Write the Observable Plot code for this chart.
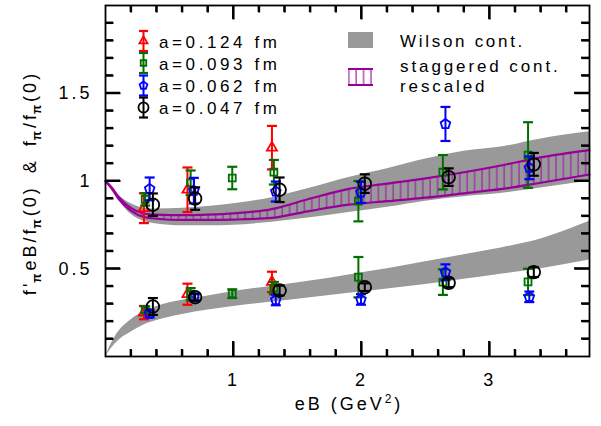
<!DOCTYPE html>
<html><head><meta charset="utf-8">
<script src="https://cdn.jsdelivr.net/npm/d3@7"></script>
<script src="https://cdn.jsdelivr.net/npm/@observablehq/plot@0.6"></script>
<style>
body{margin:0;background:#fff;}
#wrap{width:601px;height:426px;}
</style></head><body><div id="wrap"></div>
<script>
// ---------- data ----------
const seriesNames = ["a=0.124 fm", "a=0.093 fm", "a=0.062 fm", "a=0.047 fm"];

const eB_a124 = [0.30, 0.64, 1.30];
const fpi_a124 = [0.845, 0.95, 1.19];
const fpiErr_a124 = [0.085, 0.127, 0.124];
const fprime_a124 = [0.25, 0.355, 0.425];
const fprimeErr_a124 = [0.038, 0.06, 0.058];

const eB_a093 = [0.31, 0.665, 0.99, 1.315, 1.975, 2.635, 3.30];
const fpi_a093 = [0.895, 0.99, 1.017, 1.05, 0.885, 1.05, 1.148];
const fpiErr_a093 = [0.035, 0.07, 0.064, 0.07, 0.115, 0.098, 0.187];
const fprime_a093 = [0.266, 0.355, 0.358, 0.39, 0.452, 0.424, 0.425];
const fprimeErr_a093 = [0.02, 0.035, 0.025, 0.035, 0.115, 0.073, 0.075];

const eB_a062 = [0.345, 0.69, 1.33, 1.995, 2.655, 3.31];
const fpi_a062 = [0.955, 0.945, 0.94, 0.935, 1.325, 1.075];
const fpiErr_a062 = [0.065, 0.073, 0.057, 0.06, 0.097, 0.065];
const fprime_a062 = [0.243, 0.338, 0.322, 0.325, 0.48, 0.34];
const fprimeErr_a062 = [0.02, 0.02, 0.03, 0.03, 0.045, 0.03];

const eB_a047 = [0.37, 0.70, 1.36, 2.025, 2.68, 3.345];
const fpi_a047 = [0.865, 0.90, 0.95, 0.985, 1.022, 1.095];
const fpiErr_a047 = [0.064, 0.064, 0.07, 0.053, 0.05, 0.065];
const fprime_a047 = [0.285, 0.338, 0.376, 0.395, 0.42, 0.481];
const fprimeErr_a047 = [0.048, 0.02, 0.028, 0.022, 0.025, 0.028];

// continuum bands
const bandEB = [0, 0.05, 0.1, 0.2, 0.3, 0.4, 0.6, 0.8, 1.0, 1.3, 1.6, 1.9, 2.2, 2.5, 2.8, 3.1, 3.4, 3.78];
const wilsonFpiLo = [1.0, 0.95, 0.895, 0.81, 0.77, 0.755, 0.745, 0.745, 0.748, 0.765, 0.79, 0.82, 0.85, 0.885, 0.91, 0.93, 0.96, 1.0];
const wilsonFpiHi = [1.0, 0.96, 0.92, 0.87, 0.845, 0.84, 0.845, 0.855, 0.871, 0.905, 0.96, 1.02, 1.07, 1.125, 1.17, 1.195, 1.24, 1.28];
const staggFpiLo = [1.0, 0.955, 0.9, 0.83, 0.795, 0.785, 0.778, 0.778, 0.78, 0.79, 0.83, 0.865, 0.885, 0.905, 0.93, 0.955, 0.99, 1.037];
const staggFpiHi = [1.0, 0.962, 0.912, 0.845, 0.815, 0.808, 0.805, 0.808, 0.815, 0.84, 0.9, 0.955, 0.985, 1.015, 1.05, 1.09, 1.135, 1.176];
const wilsonFprimeLo = [0, 0.05, 0.09, 0.14, 0.18, 0.205, 0.24, 0.265, 0.285, 0.31, 0.335, 0.36, 0.385, 0.41, 0.44, 0.47, 0.5, 0.55];
const wilsonFprimeHi = [0, 0.08, 0.14, 0.21, 0.255, 0.285, 0.32, 0.345, 0.37, 0.4, 0.43, 0.465, 0.5, 0.54, 0.58, 0.62, 0.67, 0.77];

// axes
const xDomain = [0, 3.78];
const yDomain = [0, 2];
const xMajorTicks = [1, 2, 3];
const xTickLabels = ["1", "2", "3"];
const xMinorTicks = [0.2, 0.4, 0.6, 0.8, 1.2, 1.4, 1.6, 1.8, 2.2, 2.4, 2.6, 2.8, 3.2, 3.4, 3.6];
const yMajorTicks = [0.5, 1, 1.5];
const yTickLabels = ["0.5", "1", "1.5"];
const yMinorTicks = [0.1, 0.2, 0.3, 0.4, 0.6, 0.7, 0.8, 0.9, 1.1, 1.2, 1.3, 1.4, 1.6, 1.7, 1.8, 1.9];

// ---------- layout & styling ----------
const W = 601, H = 426, ML = 105, MR = 12, MT = 5, MB = 70;
const PW = W - ML - MR, PH = H - MT - MB;
const xPerPx = (xDomain[1] - xDomain[0]) / PW;
const yPerPx = (yDomain[1] - yDomain[0]) / PH;
const COLORS = ["#ff0000", "#007000", "#0000ff", "#000000"];
const PURPLE = "#990099";
const GRAY = "#999999";

const pentagon = {draw(ctx, size) {
  const r = Math.sqrt(size / Math.PI) * 1.05;
  for (let k = 0; k < 5; k++) {
    const a = -Math.PI / 2 + k * 2 * Math.PI / 5;
    const px = r * Math.cos(a), py = r * Math.sin(a);
    if (k) ctx.lineTo(px, py); else ctx.moveTo(px, py);
  }
  ctx.closePath();
}};
const capSym = {draw(ctx, size) {
  const r = Math.sqrt(size / Math.PI);
  ctx.moveTo(-r, 0); ctx.lineTo(r, 0);
}};
const SYMBOLS = [d3.symbolTriangle2, d3.symbolSquare2, pentagon, d3.symbolCircle];
const SYM_R = [4.8, 4.4, 4.8, 6.3];

// ---------- build tables ----------
const raw = [
  [eB_a124, fpi_a124, fpiErr_a124, fprime_a124, fprimeErr_a124],
  [eB_a093, fpi_a093, fpiErr_a093, fprime_a093, fprimeErr_a093],
  [eB_a062, fpi_a062, fpiErr_a062, fprime_a062, fprimeErr_a062],
  [eB_a047, fpi_a047, fpiErr_a047, fprime_a047, fprimeErr_a047]
];
const seriesPts = raw.map(([xs, f, fe, g, ge]) => {
  const pts = [];
  xs.forEach((x, i) => {
    pts.push({x, y: f[i], e: fe[i]});
    pts.push({x, y: g[i], e: ge[i]});
  });
  return pts;
});
const band = bandEB.map((x, i) => ({
  x, wlo: wilsonFpiLo[i], whi: wilsonFpiHi[i],
  slo: staggFpiLo[i], shi: staggFpiHi[i],
  plo: wilsonFprimeLo[i], phi: wilsonFprimeHi[i]
}));

const curve = "monotone-x";
const marks = [
  Plot.areaY(band, {x: "x", y1: "wlo", y2: "whi", fill: GRAY, curve}),
  Plot.areaY(band, {x: "x", y1: "plo", y2: "phi", fill: GRAY, curve}),
  Plot.areaY(band, {x: "x", y1: "slo", y2: "shi", fill: "url(#vhatch)", curve}),
  Plot.lineY(band, {x: "x", y: "slo", stroke: PURPLE, strokeWidth: 2.2, curve}),
  Plot.lineY(band, {x: "x", y: "shi", stroke: PURPLE, strokeWidth: 2.2, curve})
];
seriesPts.forEach((pts, s) => {
  const c = COLORS[s];
  marks.push(
    Plot.ruleX(pts, {x: "x", y1: d => d.y - d.e, y2: d => d.y + d.e, stroke: c, strokeWidth: 2}),
    Plot.dot(pts, {x: "x", y: d => d.y + d.e, symbol: capSym, r: 5, stroke: c, strokeWidth: 2.2}),
    Plot.dot(pts, {x: "x", y: d => d.y - d.e, symbol: capSym, r: 5, stroke: c, strokeWidth: 2.2}),
    Plot.dot(pts, {x: "x", y: "y", symbol: SYMBOLS[s], r: SYM_R[s], stroke: c, fill: "none", strokeWidth: 1.8})
  );
});
// inward ticks on all four sides, lengths given in pixels
const tick = (ticks, side, px) => {
  const o = {stroke: "black", strokeWidth: 2};
  if (side === "bottom") return Plot.link(ticks, {...o, x1: d => d, x2: d => d, y1: () => yDomain[0], y2: () => yDomain[0] + px * yPerPx});
  if (side === "top") return Plot.link(ticks, {...o, x1: d => d, x2: d => d, y1: () => yDomain[1], y2: () => yDomain[1] - px * yPerPx});
  if (side === "left") return Plot.link(ticks, {...o, y1: d => d, y2: d => d, x1: () => xDomain[0], x2: () => xDomain[0] + px * xPerPx});
  return Plot.link(ticks, {...o, y1: d => d, y2: d => d, x1: () => xDomain[1], x2: () => xDomain[1] - px * xPerPx});
};
marks.push(
  Plot.frame({stroke: "black", strokeWidth: 1.8}),
  tick(xMajorTicks, "bottom", 15), tick(xMinorTicks, "bottom", 7),
  tick(xMajorTicks, "top", 14), tick(xMinorTicks, "top", 7),
  tick(yMajorTicks, "left", 15), tick(yMinorTicks, "left", 8),
  tick(yMajorTicks, "right", 15), tick(yMinorTicks, "right", 8),
  Plot.axisX(xMajorTicks, {anchor: "bottom", tickSize: 0, tickPadding: 17, tickFormat: (d, i) => xTickLabels[i], label: null}),
  Plot.axisY(yMajorTicks, {anchor: "left", tickSize: 0, tickPadding: 13, tickFormat: (d, i) => yTickLabels[i], label: null})
);

const svgNode = Plot.plot({
  width: W, height: H,
  marginLeft: ML, marginRight: MR, marginTop: MT, marginBottom: MB,
  x: {domain: xDomain, label: null},
  y: {domain: yDomain, label: null},
  style: {fontFamily: "'Liberation Sans', Arial, sans-serif", fontSize: "18px", letterSpacing: "3px", color: "black", background: "white"},
  marks
});
document.getElementById("wrap").appendChild(svgNode);

const svg = d3.select(svgNode);
svg.insert("defs", ":first-child").html(
  `<pattern id="vhatch" patternUnits="userSpaceOnUse" width="7.4" height="10">
     <line x1="1" y1="0" x2="1" y2="10" stroke="#a020a8" stroke-width="1.2"/>
   </pattern>`);

// tick overlay drawn on top through the plot's own scales
const sx = svgNode.scale("x"), sy = svgNode.scale("y");
const X0 = sx.apply(xDomain[0]), X1 = sx.apply(xDomain[1]);
const Y0 = sy.apply(yDomain[0]), Y1 = sy.apply(yDomain[1]);
const tg = svg.append("g").attr("stroke", "black").attr("stroke-width", 2);
const seg = (x1, y1, x2, y2) => tg.append("line").attr("x1", x1).attr("y1", y1).attr("x2", x2).attr("y2", y2);
[[xMajorTicks, 15, 14], [xMinorTicks, 7, 7]].forEach(([ts, lb, lt]) => ts.forEach(v => {
  const p = sx.apply(v); seg(p, Y0, p, Y0 - lb); seg(p, Y1, p, Y1 + lt);
}));
[[yMajorTicks, 15], [yMinorTicks, 8]].forEach(([ts, l]) => ts.forEach(v => {
  const p = sy.apply(v); seg(X0, p, X0 + l, p); seg(X1, p, X1 - l, p);
}));

const txt = (g, x, y, s) => g.append("text").attr("x", x).attr("y", y).attr("fill", "black").attr("text-anchor", "start").text(s);

// x-axis title
const xt = svg.append("text").attr("x", 349).attr("y", 410).attr("text-anchor", "middle");
xt.append("tspan").text("eB (GeV");
xt.append("tspan").attr("font-size", 12).attr("dy", -7).text("2");
xt.append("tspan").attr("dy", 7).text(")");

// y-axis title (rotated)
const yt = svg.append("text").attr("transform", "translate(36,183) rotate(-90)").attr("text-anchor", "middle");
const sub = (t) => { yt.append("tspan").attr("font-size", 12).attr("font-weight", "bold").attr("dy", 5).attr("dx", -2).text("π"); yt.append("tspan").attr("dy", -5).text(t); };
yt.append("tspan").text("f'");
sub("eB/f");
sub("(0)");
yt.append("tspan").attr("dx", 12).text("&");
yt.append("tspan").attr("dx", 12).text("f");
sub("/f");
sub("(0)");

// legend
const lg = svg.append("g").attr("font-size", 17);
const rowY = [41, 63, 85.5, 107.5];
seriesNames.forEach((name, i) => {
  const c = COLORS[i], y = rowY[i], x = 143.5;
  lg.append("line").attr("x1", x).attr("x2", x).attr("y1", y - 10).attr("y2", y + 10).attr("stroke", c).attr("stroke-width", 2);
  [y - 10, y + 10].forEach(yy => lg.append("line").attr("x1", x - 4.5).attr("x2", x + 4.5).attr("y1", yy).attr("y2", yy).attr("stroke", c).attr("stroke-width", 2.2));
  const r = SYM_R[i] * 0.8;
  lg.append("path").attr("transform", `translate(${x},${y})`).attr("d", d3.symbol(SYMBOLS[i], Math.PI * r * r)()).attr("fill", "none").attr("stroke", c).attr("stroke-width", 1.8);
  txt(lg, 159, y + 6.5, name).attr("letter-spacing", "3.6px");
});
lg.append("rect").attr("x", 348).attr("y", 32).attr("width", 25).attr("height", 16).attr("fill", GRAY);
txt(lg, 400, 47, "Wilson cont.").attr("letter-spacing", "2.7px");
lg.append("rect").attr("x", 348).attr("y", 69).attr("width", 25).attr("height", 16).attr("fill", "url(#vhatch)");
lg.append("line").attr("x1", 348).attr("x2", 373).attr("y1", 69).attr("y2", 69).attr("stroke", PURPLE).attr("stroke-width", 2);
lg.append("line").attr("x1", 348).attr("x2", 373).attr("y1", 85).attr("y2", 85).attr("stroke", PURPLE).attr("stroke-width", 2);
txt(lg, 400, 72, "staggered cont.").attr("letter-spacing", "2.9px");
txt(lg, 400, 92, "rescaled").attr("letter-spacing", "2.9px");
</script></body></html>
